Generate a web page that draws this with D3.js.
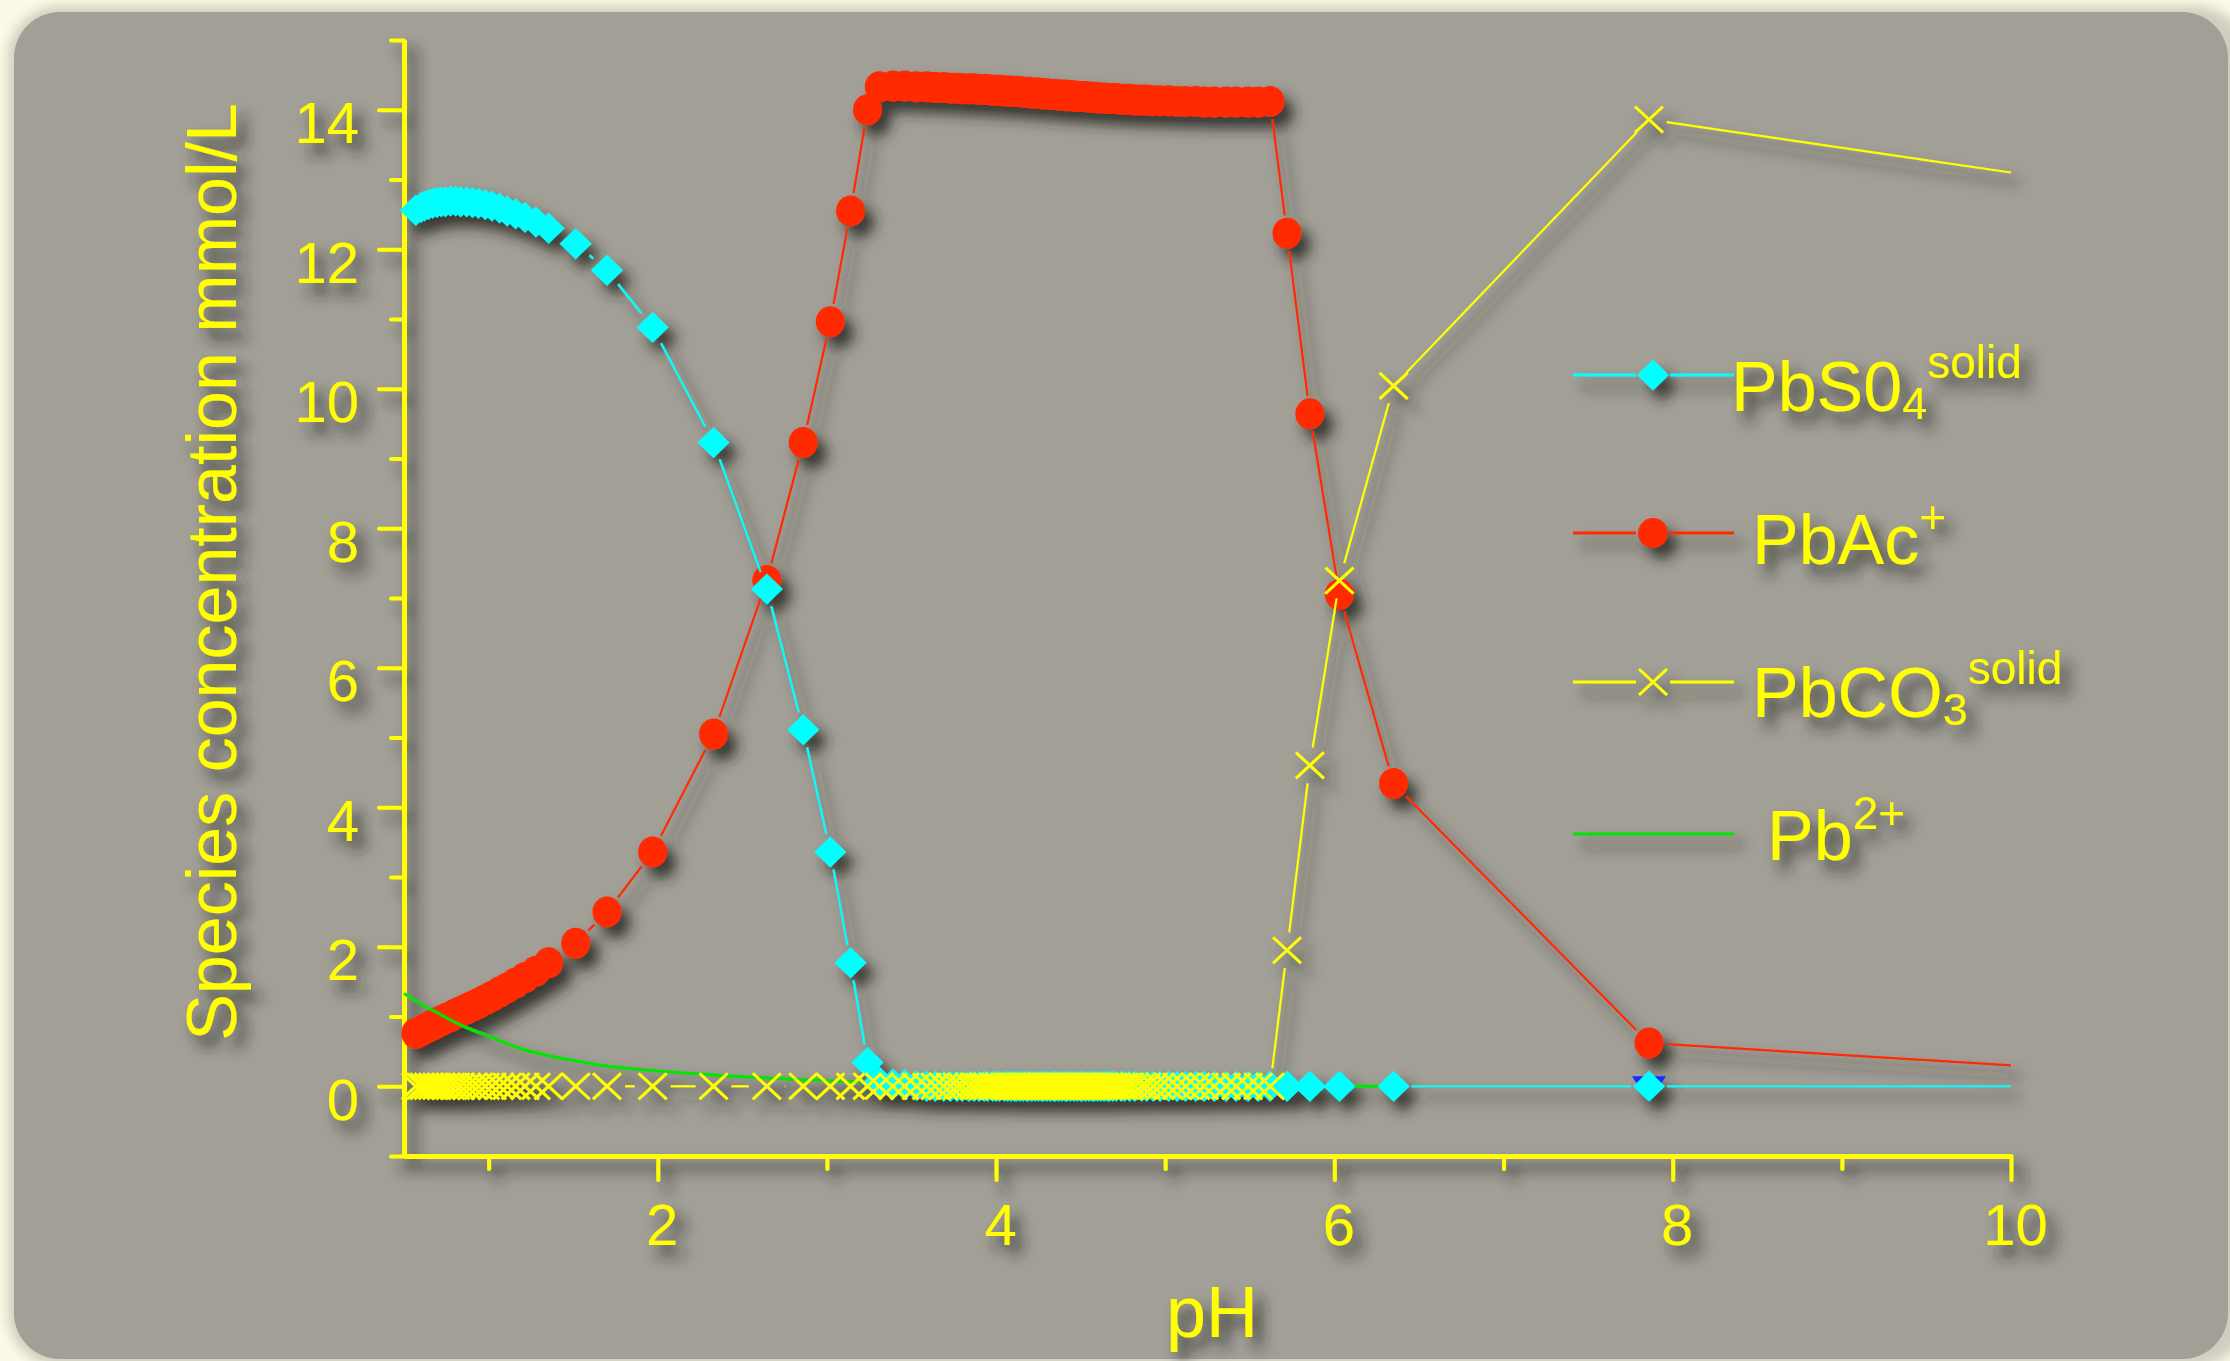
<!DOCTYPE html>
<html>
<head>
<meta charset="utf-8">
<script src="https://cdn.jsdelivr.net/npm/d3@7"></script>
<style>
  html, body { margin: 0; padding: 0; background: #fcfae6; }
  svg { display: block; }
</style>
</head>
<body>
<svg width="2230" height="1361"></svg>
<script>
// pH steps of the titration (shared by the three marked series)
const phLow = [0.57, 0.60, 0.62, 0.645, 0.67, 0.695, 0.72, 0.745, 0.775, 0.805,
               0.835, 0.87, 0.905, 0.94, 0.98, 1.02, 1.065, 1.11, 1.16, 1.215,
               1.28, 1.355];
const phMid = [1.515, 1.70, 1.97, 2.33, 2.645, 2.86, 3.02, 3.14, 3.24];
const phPlateau = [3.31, 3.39, 3.46, 3.53, 3.59, 3.64, 3.69, 3.73, 3.77, 3.80,
                   3.84, 3.87, 3.90, 3.93, 3.95, 3.98, 4.00, 4.02, 4.05, 4.07,
                   4.09, 4.11, 4.12, 4.14, 4.16, 4.18, 4.19, 4.21, 4.23, 4.25,
                   4.27, 4.28, 4.30, 4.32, 4.34, 4.35, 4.37, 4.39, 4.41, 4.42,
                   4.44, 4.46, 4.48, 4.50, 4.51, 4.53, 4.55, 4.57, 4.58, 4.60,
                   4.62, 4.64, 4.66, 4.67, 4.69, 4.71, 4.74, 4.76, 4.79, 4.82,
                   4.86, 4.89, 4.93, 4.97, 5.02, 5.07, 5.12, 5.18, 5.23, 5.29,
                   5.36, 5.42, 5.49, 5.55, 5.62];
const phHigh = [5.72, 5.855, 6.03, 6.35, 7.86, 10.0];

// PbSO4 solid
const so4Low = [12.56, 12.60, 12.62, 12.64, 12.66, 12.67, 12.68, 12.68, 12.69, 12.69,
                12.68, 12.68, 12.67, 12.66, 12.64, 12.62, 12.59, 12.55, 12.51, 12.46,
                12.39, 12.30];
const so4Mid = [12.08, 11.70, 10.88, 9.23, 7.13, 5.11, 3.36, 1.77, 0.34];
const so4Plateau = [0.06, 0.03, 0.02, 0.01, 0, 0, 0, 0, 0, 0,
                    0, 0, 0, 0, 0, 0, 0, 0, 0, 0,
                    0, 0, 0, 0, 0, 0, 0, 0, 0, 0,
                    0, 0, 0, 0, 0, 0, 0, 0, 0, 0,
                    0, 0, 0, 0, 0, 0, 0, 0, 0, 0,
                    0, 0, 0, 0, 0, 0, 0, 0, 0, 0,
                    0, 0, 0, 0, 0, 0, 0, 0, 0, 0,
                    0, 0, 0, 0, 0];
const so4High = [0, 0, 0, 0, 0, 0];

// PbAc+
const acLow = [0.76, 0.79, 0.82, 0.85, 0.88, 0.91, 0.94, 0.97, 1.00, 1.04,
               1.07, 1.11, 1.15, 1.19, 1.24, 1.29, 1.35, 1.41, 1.48, 1.56,
               1.65, 1.77];
const acMid = [2.05, 2.50, 3.36, 5.05, 7.25, 9.23, 10.96, 12.55, 14.00];
const acPlateau = [14.33, 14.34, 14.34, 14.33, 14.33, 14.32, 14.32, 14.31, 14.31, 14.30,
                   14.30, 14.30, 14.29, 14.29, 14.29, 14.28, 14.28, 14.28, 14.27, 14.27,
                   14.27, 14.26, 14.26, 14.26, 14.25, 14.25, 14.25, 14.24, 14.24, 14.24,
                   14.23, 14.23, 14.23, 14.22, 14.22, 14.22, 14.21, 14.21, 14.21, 14.20,
                   14.20, 14.20, 14.19, 14.19, 14.19, 14.19, 14.18, 14.18, 14.18, 14.17,
                   14.17, 14.17, 14.16, 14.16, 14.16, 14.16, 14.15, 14.15, 14.15, 14.14,
                   14.14, 14.14, 14.13, 14.13, 14.13, 14.12, 14.12, 14.12, 14.11, 14.11,
                   14.11, 14.11, 14.11, 14.11, 14.12];
const acHigh = [12.23, 9.64, 7.05, 4.34, 0.62, 0.30];

// PbCO3 solid
const co3Low = [0, 0, 0, 0, 0, 0, 0, 0, 0, 0,
                0, 0, 0, 0, 0, 0, 0, 0, 0, 0,
                0, 0];
const co3Mid = [0, 0, 0, 0, 0, 0, 0, 0, 0];
const co3Plateau = [0, 0, 0, 0, 0, 0, 0, 0, 0, 0,
                    0, 0, 0, 0, 0, 0, 0, 0, 0, 0,
                    0, 0, 0, 0, 0, 0, 0, 0, 0, 0,
                    0, 0, 0, 0, 0, 0, 0, 0, 0, 0,
                    0, 0, 0, 0, 0, 0, 0, 0, 0, 0,
                    0, 0, 0, 0, 0, 0, 0, 0, 0, 0,
                    0, 0, 0, 0, 0, 0, 0, 0, 0, 0,
                    0, 0, 0, 0, 0];
const co3High = [1.95, 4.60, 7.25, 10.04, 13.86, 13.10];

// Pb2+ (smooth line, no markers)
const pb2pH = [0.5, 0.6, 0.7, 0.8, 0.9, 1.0, 1.1, 1.2, 1.35, 1.5, 1.7, 1.9,
               2.1, 2.4, 2.7, 3.0, 3.3, 3.6, 4.0, 4.5, 5.0, 5.5, 6.0, 6.3];
const pb2 = [1.33, 1.18, 1.05, 0.92, 0.81, 0.72, 0.62, 0.53, 0.44, 0.37, 0.29, 0.24,
             0.20, 0.15, 0.11, 0.08, 0.05, 0.03, 0.02, 0.01, 0.01, 0, 0, 0];

// hidden blue triangle series, only visible at pH 7.86
const triPH = [7.86];
const triVals = [0];

const yMajor = [0, 2, 4, 6, 8, 10, 12, 14];
const yMinor = [-1, 1, 3, 5, 7, 9, 11, 13, 15];
const xMajor = [2, 4, 6, 8, 10];
const xMinor = [1, 3, 5, 7, 9];

const pH = phLow.concat(phMid, phPlateau, phHigh);
const pbso4 = so4Low.concat(so4Mid, so4Plateau, so4High);
const pbac = acLow.concat(acMid, acPlateau, acHigh);
const pbco3 = co3Low.concat(co3Mid, co3Plateau, co3High);

const FONT = "'Liberation Sans', Arial, Helvetica, sans-serif";
const YEL = "#ffff00", CYAN = "#00ffff", RED = "#ff2a00", GREEN = "#00e600", BLUE = "#1a2cff";

const svg = d3.select("svg");
const defs = svg.append("defs");

defs.append("filter").attr("id", "glow")
    .attr("x", "-3%").attr("y", "-3%").attr("width", "106%").attr("height", "106%")
  .append("feGaussianBlur").attr("stdDeviation", 6);

defs.append("filter").attr("id", "shadow")
    .attr("filterUnits", "userSpaceOnUse")
    .attr("x", 0).attr("y", 0).attr("width", 2230).attr("height", 1361)
  .append("feDropShadow")
    .attr("dx", 9).attr("dy", 11).attr("stdDeviation", 7)
    .attr("flood-color", "#26261f").attr("flood-opacity", 0.85);

// background and panel
svg.append("rect").attr("width", 2230).attr("height", 1361).attr("fill", "#fcfae6");
svg.append("rect")
    .attr("x", 8).attr("y", 6).attr("width", 2240).attr("height", 1360).attr("rx", 52)
    .attr("fill", "#cfcdbf").attr("filter", "url(#glow)");
svg.append("rect")
    .attr("x", 14).attr("y", 12).attr("width", 2214).attr("height", 1347).attr("rx", 46)
    .attr("fill", "#a19f96");

const g = svg.append("g").attr("filter", "url(#shadow)");

const x = d3.scaleLinear().domain([0.5, 10]).range([404, 2011]);
const y = d3.scaleLinear().domain([-1, 15]).range([1156, 40]);

// Y axis
const yAxis = g.append("g")
    .attr("transform", "translate(404,0)")
    .call(d3.axisLeft(y).tickValues(yMajor).tickSize(25).tickSizeOuter(0).tickPadding(20));
yAxis.select(".domain").attr("stroke", YEL).attr("stroke-width", 5);
yAxis.selectAll(".tick line").attr("stroke", YEL).attr("stroke-width", 4).attr("stroke-linecap", "round");
yAxis.selectAll(".tick text")
    .attr("fill", YEL).attr("font-size", 58).attr("font-family", FONT).attr("dy", "0.57em");

const yAxisMinor = g.append("g")
    .attr("transform", "translate(404,0)")
    .call(d3.axisLeft(y).tickValues(yMinor).tickSize(13).tickSizeOuter(0).tickFormat(""));
yAxisMinor.select(".domain").remove();
yAxisMinor.selectAll(".tick line").attr("stroke", YEL).attr("stroke-width", 4).attr("stroke-linecap", "round");

// X axis
const xAxis = g.append("g")
    .attr("transform", "translate(0,1156)")
    .call(d3.axisBottom(x).tickValues(xMajor).tickSize(24).tickSizeOuter(0));
xAxis.select(".domain").attr("stroke", YEL).attr("stroke-width", 5);
xAxis.selectAll(".tick line").attr("stroke", YEL).attr("stroke-width", 4).attr("stroke-linecap", "round");
xAxis.selectAll(".tick text")
    .attr("fill", YEL).attr("font-size", 58).attr("font-family", FONT)
    .attr("y", 89).attr("dy", "0").attr("x", 4);

const xAxisMinor = g.append("g")
    .attr("transform", "translate(0,1156)")
    .call(d3.axisBottom(x).tickValues(xMinor).tickSize(13).tickSizeOuter(0).tickFormat(""));
xAxisMinor.select(".domain").remove();
xAxisMinor.selectAll(".tick line").attr("stroke", YEL).attr("stroke-width", 4).attr("stroke-linecap", "round");

// axis titles
g.append("text")
    .attr("transform", "translate(236,572) rotate(-90)")
    .attr("text-anchor", "middle")
    .attr("font-family", FONT).attr("font-size", 70).attr("fill", YEL)
    .text("Species concentration mmol/L");

g.append("text")
    .attr("x", 1212).attr("y", 1337)
    .attr("text-anchor", "middle")
    .attr("font-family", FONT).attr("font-size", 72).attr("fill", YEL)
    .text("pH");

// line pieces between markers, with a small gap round each marker
const TRIM = 18;
function gapSegments(xs, ys) {
    const segs = [];
    const last = xs.length - 1;
    for (let i = 0; i < last; i++) {
        const x0 = x(xs[i]), y0 = y(ys[i]), x1 = x(xs[i + 1]), y1 = y(ys[i + 1]);
        const dx = x1 - x0, dy = y1 - y0, len = Math.hypot(dx, dy);
        const t0 = TRIM, t1 = (i + 1 === last) ? 0 : TRIM;
        if (len <= t0 + t1) continue;
        segs.push([x0 + dx / len * t0, y0 + dy / len * t0, x1 - dx / len * t1, y1 - dy / len * t1]);
    }
    return segs;
}

function drawSegments(cls, xs, ys, color) {
    g.selectAll("line." + cls).data(gapSegments(xs, ys))
        .join("line")
        .attr("class", cls)
        .attr("x1", d => d[0]).attr("y1", d => d[1])
        .attr("x2", d => d[2]).attr("y2", d => d[3])
        .attr("stroke", color).attr("stroke-width", 2.2);
}

// last point (pH 10) carries no marker
const markIdx = d3.range(pH.length - 1);

const diamond = "M0,-15.5L16,0L0,15.5L-16,0Z";
const cross = "M-14,-13L14,13M-14,13L14,-13";

// PbAc+
drawSegments("ac-line", pH, pbac, RED);
g.selectAll("ellipse.ac").data(markIdx)
    .join("ellipse")
    .attr("class", "ac")
    .attr("cx", i => x(pH[i])).attr("cy", i => y(pbac[i]))
    .attr("rx", 14.5).attr("ry", 15.5).attr("fill", RED);

// PbSO4
drawSegments("so4-line", pH, pbso4, CYAN);

// Pb2+
g.append("path")
    .datum(pb2pH.map((p, i) => [p, pb2[i]]))
    .attr("d", d3.line().x(d => x(d[0])).y(d => y(d[1])).curve(d3.curveMonotoneX))
    .attr("fill", "none").attr("stroke", GREEN).attr("stroke-width", 3);

g.selectAll("path.tri").data(triPH)
    .join("path")
    .attr("class", "tri")
    .attr("d", "M-17,-10L17,-10L0,16Z")
    .attr("transform", (p, i) => `translate(${x(p)},${y(triVals[i])})`)
    .attr("fill", BLUE);

g.selectAll("path.so4").data(markIdx)
    .join("path")
    .attr("class", "so4")
    .attr("d", diamond)
    .attr("transform", i => `translate(${x(pH[i])},${y(pbso4[i])})`)
    .attr("fill", CYAN);

// PbCO3
drawSegments("co3-line", pH, pbco3, YEL);
g.selectAll("path.co3").data(markIdx)
    .join("path")
    .attr("class", "co3")
    .attr("d", cross)
    .attr("transform", i => `translate(${x(pH[i])},${y(pbco3[i])})`)
    .attr("fill", "none").attr("stroke", YEL).attr("stroke-width", 3);

// legend
const legendItems = [
    {base: "PbS0", sub: "4", sup: "solid", color: CYAN, mark: "diamond"},
    {base: "PbAc", sub: "", sup: "+", color: RED, mark: "circle"},
    {base: "PbCO", sub: "3", sup: "solid", color: YEL, mark: "cross"},
    {base: "Pb", sub: "", sup: "2+", color: GREEN, mark: "none"}
];
const legY = [375, 533, 682, 834];
const legTextX = [1731, 1752, 1752, 1767];
const legTextY = [411, 564, 717, 860];

legendItems.forEach((d, i) => {
    const ly = legY[i];
    const lg = g.append("g");
    if (d.mark === "none") {
        lg.append("line").attr("x1", 1573).attr("x2", 1734).attr("y1", ly).attr("y2", ly)
            .attr("stroke", d.color).attr("stroke-width", 3);
    } else {
        lg.append("line").attr("x1", 1573).attr("x2", 1636).attr("y1", ly).attr("y2", ly)
            .attr("stroke", d.color).attr("stroke-width", 3);
        lg.append("line").attr("x1", 1670).attr("x2", 1734).attr("y1", ly).attr("y2", ly)
            .attr("stroke", d.color).attr("stroke-width", 3);
    }
    if (d.mark === "diamond") {
        lg.append("path").attr("d", diamond).attr("transform", `translate(1653,${ly})`).attr("fill", d.color);
    } else if (d.mark === "circle") {
        lg.append("circle").attr("cx", 1653).attr("cy", ly).attr("r", 15).attr("fill", d.color);
    } else if (d.mark === "cross") {
        lg.append("path").attr("d", cross).attr("transform", `translate(1653,${ly})`)
            .attr("fill", "none").attr("stroke", d.color).attr("stroke-width", 3);
    }
    const t = lg.append("text")
        .attr("x", legTextX[i]).attr("y", legTextY[i])
        .attr("font-family", FONT).attr("font-size", 70).attr("fill", YEL);
    t.append("tspan").text(d.base);
    if (d.sub) {
        t.append("tspan").attr("dy", 8).attr("font-size", 45).text(d.sub);
        t.append("tspan").attr("dy", -41).attr("font-size", 46).text(d.sup);
    } else {
        t.append("tspan").attr("dy", -31).attr("font-size", 46).text(d.sup);
    }
});
</script>
</body>
</html>
